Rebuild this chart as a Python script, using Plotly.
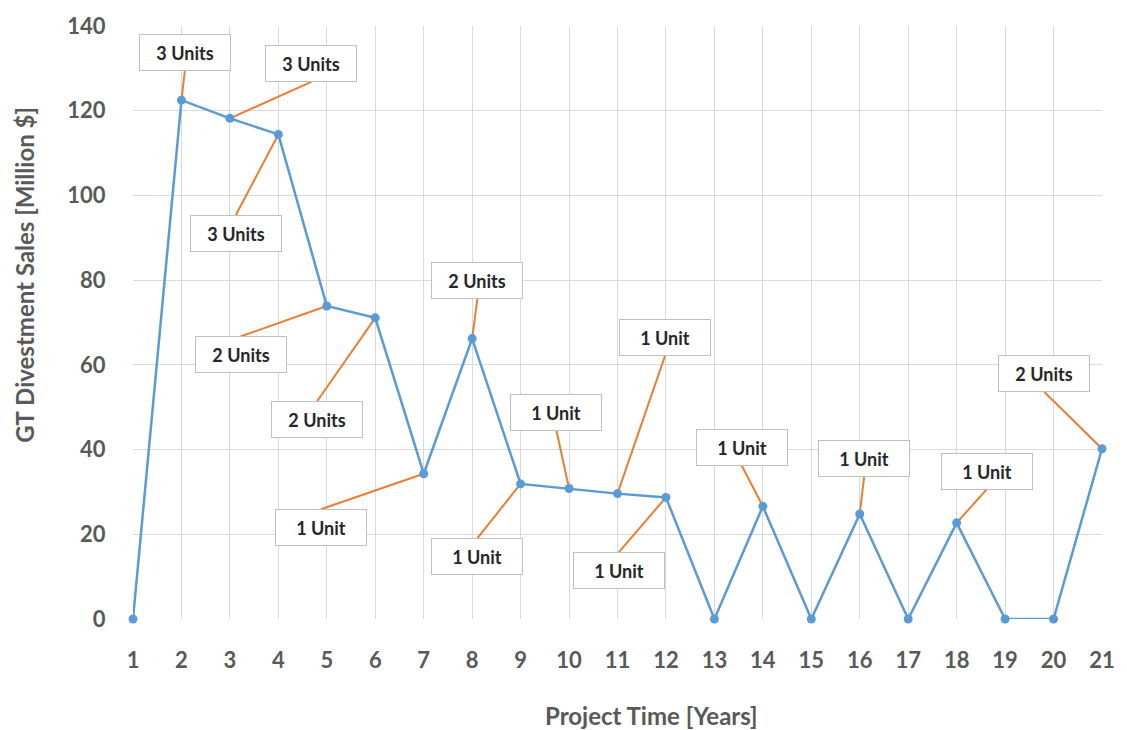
import plotly.graph_objects as go

# Divestment sales per project year
years = list(range(1, 22))
sales = [0, 122.5, 118.2, 114.4, 73.9, 71.1, 34.3, 66.2, 31.9, 30.8, 29.6,
         28.7, 0, 26.6, 0, 24.8, 0, 22.7, 0, 0, 40.2]

# Unit callouts: year, text, and label-box centre (data units)
label_years = [2, 3, 4, 5, 6, 7, 8, 9, 10, 11, 12, 14, 16, 18, 21]
label_texts = ["3 Units", "3 Units", "3 Units", "2 Units", "2 Units", "1 Unit",
               "2 Units", "1 Unit", "1 Unit", "1 Unit", "1 Unit", "1 Unit",
               "1 Unit", "1 Unit", "2 Units"]
label_x = [2.07, 4.68, 3.12, 3.22, 4.80, 4.88, 8.11, 8.11, 9.74, 11.98,
           11.03, 13.56, 16.09, 18.62, 19.81]
label_y = [133.7, 131.1, 91.0, 62.4, 47.1, 21.6, 80.0, 14.8, 48.8, 66.4,
           11.5, 40.6, 37.8, 34.9, 57.9]

BLUE = "#5B9BD5"
ORANGE = "#ED7D31"
GREY = "#595959"
GRID = "#D9D9D9"
BOX_HALF_H = 4.3  # half label-box height in y units

fig = go.Figure()

# Leader lines from the label box edge to the data point
for yr, lx, ly in zip(label_years, label_x, label_y):
    py = sales[years.index(yr)]
    edge_y = ly - BOX_HALF_H if ly > py else ly + BOX_HALF_H
    fig.add_trace(go.Scatter(
        x=[lx, yr], y=[edge_y, py], mode="lines",
        line=dict(color=ORANGE, width=2), hoverinfo="skip", showlegend=False))

fig.add_trace(go.Scatter(
    x=years, y=sales, mode="lines+markers",
    line=dict(color=BLUE, width=2.5),
    marker=dict(color=BLUE, size=9),
    cliponaxis=False, showlegend=False))

for txt, lx, ly in zip(label_texts, label_x, label_y):
    fig.add_annotation(
        x=lx, y=ly, xref="x", yref="y", text=txt, showarrow=False,
        font=dict(family="Lato, Arial", size=18, color="#262626", weight="bold"),
        bgcolor="white", bordercolor="#BFBFBF", borderwidth=1, borderpad=0,
        width=90, height=35)

axis_font = dict(family="Lato, Arial", size=22, color=GREY, weight="bold")

fig.update_xaxes(
    range=[1, 21], tickmode="array", tickvals=years,
    ticktext=[str(v) for v in years],
    showgrid=True, gridcolor=GRID, gridwidth=1, zeroline=False,
    showline=False, ticks="outside", ticklen=22, tickcolor="rgba(0,0,0,0)",
    tickfont=axis_font)
fig.update_yaxes(
    range=[0, 140], tickmode="array", tickvals=list(range(0, 141, 20)),
    showgrid=True, gridcolor=GRID, gridwidth=1, zeroline=False,
    showline=False, ticks="outside", ticklen=22, tickcolor="rgba(0,0,0,0)",
    tickfont=axis_font)

title_font = dict(family="Lato, Arial", size=24, color=GREY, weight="bold")
fig.add_annotation(
    text="Project Time [Years]", xref="paper", yref="paper",
    x=(654 - 133) / (1106 - 133), y=-(716 - 619) / (619 - 22),
    xanchor="center", yanchor="middle", showarrow=False, font=title_font)
fig.add_annotation(
    text="GT Divestment Sales [Million $]", xref="paper", yref="paper",
    x=-(133 - 24) / (1106 - 133), y=(619 - 272) / (619 - 22),
    xanchor="center", yanchor="middle", textangle=-90, showarrow=False,
    font=title_font)

fig.update_layout(
    width=1127, height=730,
    margin=dict(l=133, r=21, t=22, b=111),
    paper_bgcolor="white", plot_bgcolor="white")

fig.write_html("out.html")
